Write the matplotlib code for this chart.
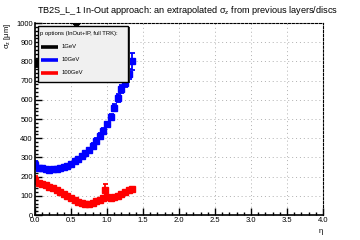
import numpy as np
import matplotlib
matplotlib.use("Agg")
import matplotlib.pyplot as plt
from matplotlib.ticker import MultipleLocator
from matplotlib.patches import Rectangle

plt.rcParams["font.family"] = ["Liberation Sans", "DejaVu Sans"]
plt.rcParams["mathtext.fontset"] = "custom"
plt.rcParams["mathtext.rm"] = "Liberation Sans"
plt.rcParams["mathtext.it"] = "Liberation Sans"

# 10 GeV
eta_10 = [0.0, 0.05, 0.1, 0.15, 0.2, 0.25, 0.3, 0.35, 0.4, 0.45, 0.5, 0.55, 0.6, 0.65,
          0.7, 0.75, 0.8, 0.85, 0.9, 0.95, 1.0, 1.05, 1.1, 1.15, 1.2, 1.25, 1.3, 1.35]
sig_10 = [262, 246, 243, 240, 236, 238, 242, 246, 251, 258, 268, 280, 292, 306,
          322, 340, 362, 388, 412, 440, 472, 512, 560, 610, 655, 690, 735, 800]
err_10 = [18, 8, 8, 8, 8, 8, 8, 8, 8, 9, 9, 9, 10, 10,
          10, 11, 12, 12, 13, 14, 15, 16, 18, 20, 20, 22, 25, 45]

# 100 GeV
eta_100 = [0.0, 0.05, 0.1, 0.15, 0.2, 0.25, 0.3, 0.35, 0.4, 0.45, 0.5, 0.55, 0.6, 0.65,
           0.7, 0.75, 0.8, 0.85, 0.9, 0.95, 0.98, 1.0, 1.05, 1.1, 1.15, 1.2, 1.25, 1.3, 1.35]
sig_100 = [182, 168, 163, 155, 147, 140, 130, 121, 110, 98, 88, 78, 68, 62,
           60, 60, 64, 71, 79, 88, 128, 95, 90, 95, 101, 110, 118, 128, 138]
err_100 = [20, 6, 6, 6, 6, 6, 6, 5, 5, 5, 5, 5, 5, 5,
           5, 5, 5, 5, 5, 6, 35, 6, 6, 6, 6, 6, 6, 6, 6]

# 1 GeV (mostly off scale)
eta_1 = [0.0, 0.57]
sig_1 = [790, 1010]
err_1 = [20, 20]

labels = ["1GeV", "10GeV", "100GeV"]
colors = ["black", "#0000ff", "#ff0000"]

fig = plt.figure(figsize=(3.6, 2.4), dpi=100)
ax = fig.add_axes([0.097, 0.104, 0.8, 0.8])

kw = dict(fmt="s", markersize=3.8, elinewidth=1.3, capsize=1.8, capthick=1.3)
for (x, y, e), c in zip([(eta_1, sig_1, err_1), (eta_10, sig_10, err_10),
                         (eta_100, sig_100, err_100)], colors):
    ax.errorbar(x, y, yerr=e, color=c, **kw)

ax.set_xlim(0, 4)
ax.set_ylim(0, 1000)
ax.xaxis.set_major_locator(MultipleLocator(0.5))
ax.xaxis.set_minor_locator(MultipleLocator(0.1))
ax.yaxis.set_major_locator(MultipleLocator(100))
ax.yaxis.set_minor_locator(MultipleLocator(20))
ax.tick_params(which="both", direction="in", labelsize=5.5, pad=1.5, width=1)
ax.tick_params(which="major", length=5)
ax.tick_params(which="minor", length=2.5)
ax.tick_params(top=False, right=False)
ax.grid(True, which="major", color="#b0b0b0", linestyle=(0, (1, 3)), linewidth=0.7)

for s in ["top", "right"]:
    ax.spines[s].set_linestyle((0, (2, 1.5)))
    ax.spines[s].set_linewidth(0.8)
for s in ["left", "bottom"]:
    ax.spines[s].set_linewidth(1.2)

ax.set_xlabel("η", fontsize=5.5, loc="right", labelpad=3)
ax.set_ylabel(r"$\sigma_z$ [μm]", fontsize=5.5, loc="top", labelpad=2.5)
fig.text(0.52, 0.985, r"TB2S_L_1 In-Out approach: an extrapolated $\sigma_z$ from previous layers/discs",
         ha="center", va="top", fontsize=6.6)

# legend box (ROOT style, with thin shadow)
T = ax.transAxes
ax.add_patch(Rectangle((0.0150, 0.686), 0.3143, 0.291, transform=T, facecolor="#303030",
                       edgecolor="none", zorder=9, clip_on=False))
ax.add_patch(Rectangle((0.0104, 0.693), 0.3143, 0.291, transform=T, facecolor="#f0f0f0",
                       edgecolor="black", linewidth=1.0, zorder=10, clip_on=False))
ax.text(0.017, 0.948, "p options (InOut+IP, full TRK):", transform=T, fontsize=4.2,
        va="center", ha="left", zorder=11)
for i, (lab, c) in enumerate(zip(labels, colors)):
    yy = 0.877 - i * 0.0685
    ax.plot([0.0226, 0.080], [yy, yy], transform=T, color=c, lw=2.6, zorder=11,
            solid_capstyle="butt")
    ax.text(0.094, yy, lab, transform=T, fontsize=4.2, va="center", ha="left", zorder=11)

fig.savefig("out.png", dpi=100)
